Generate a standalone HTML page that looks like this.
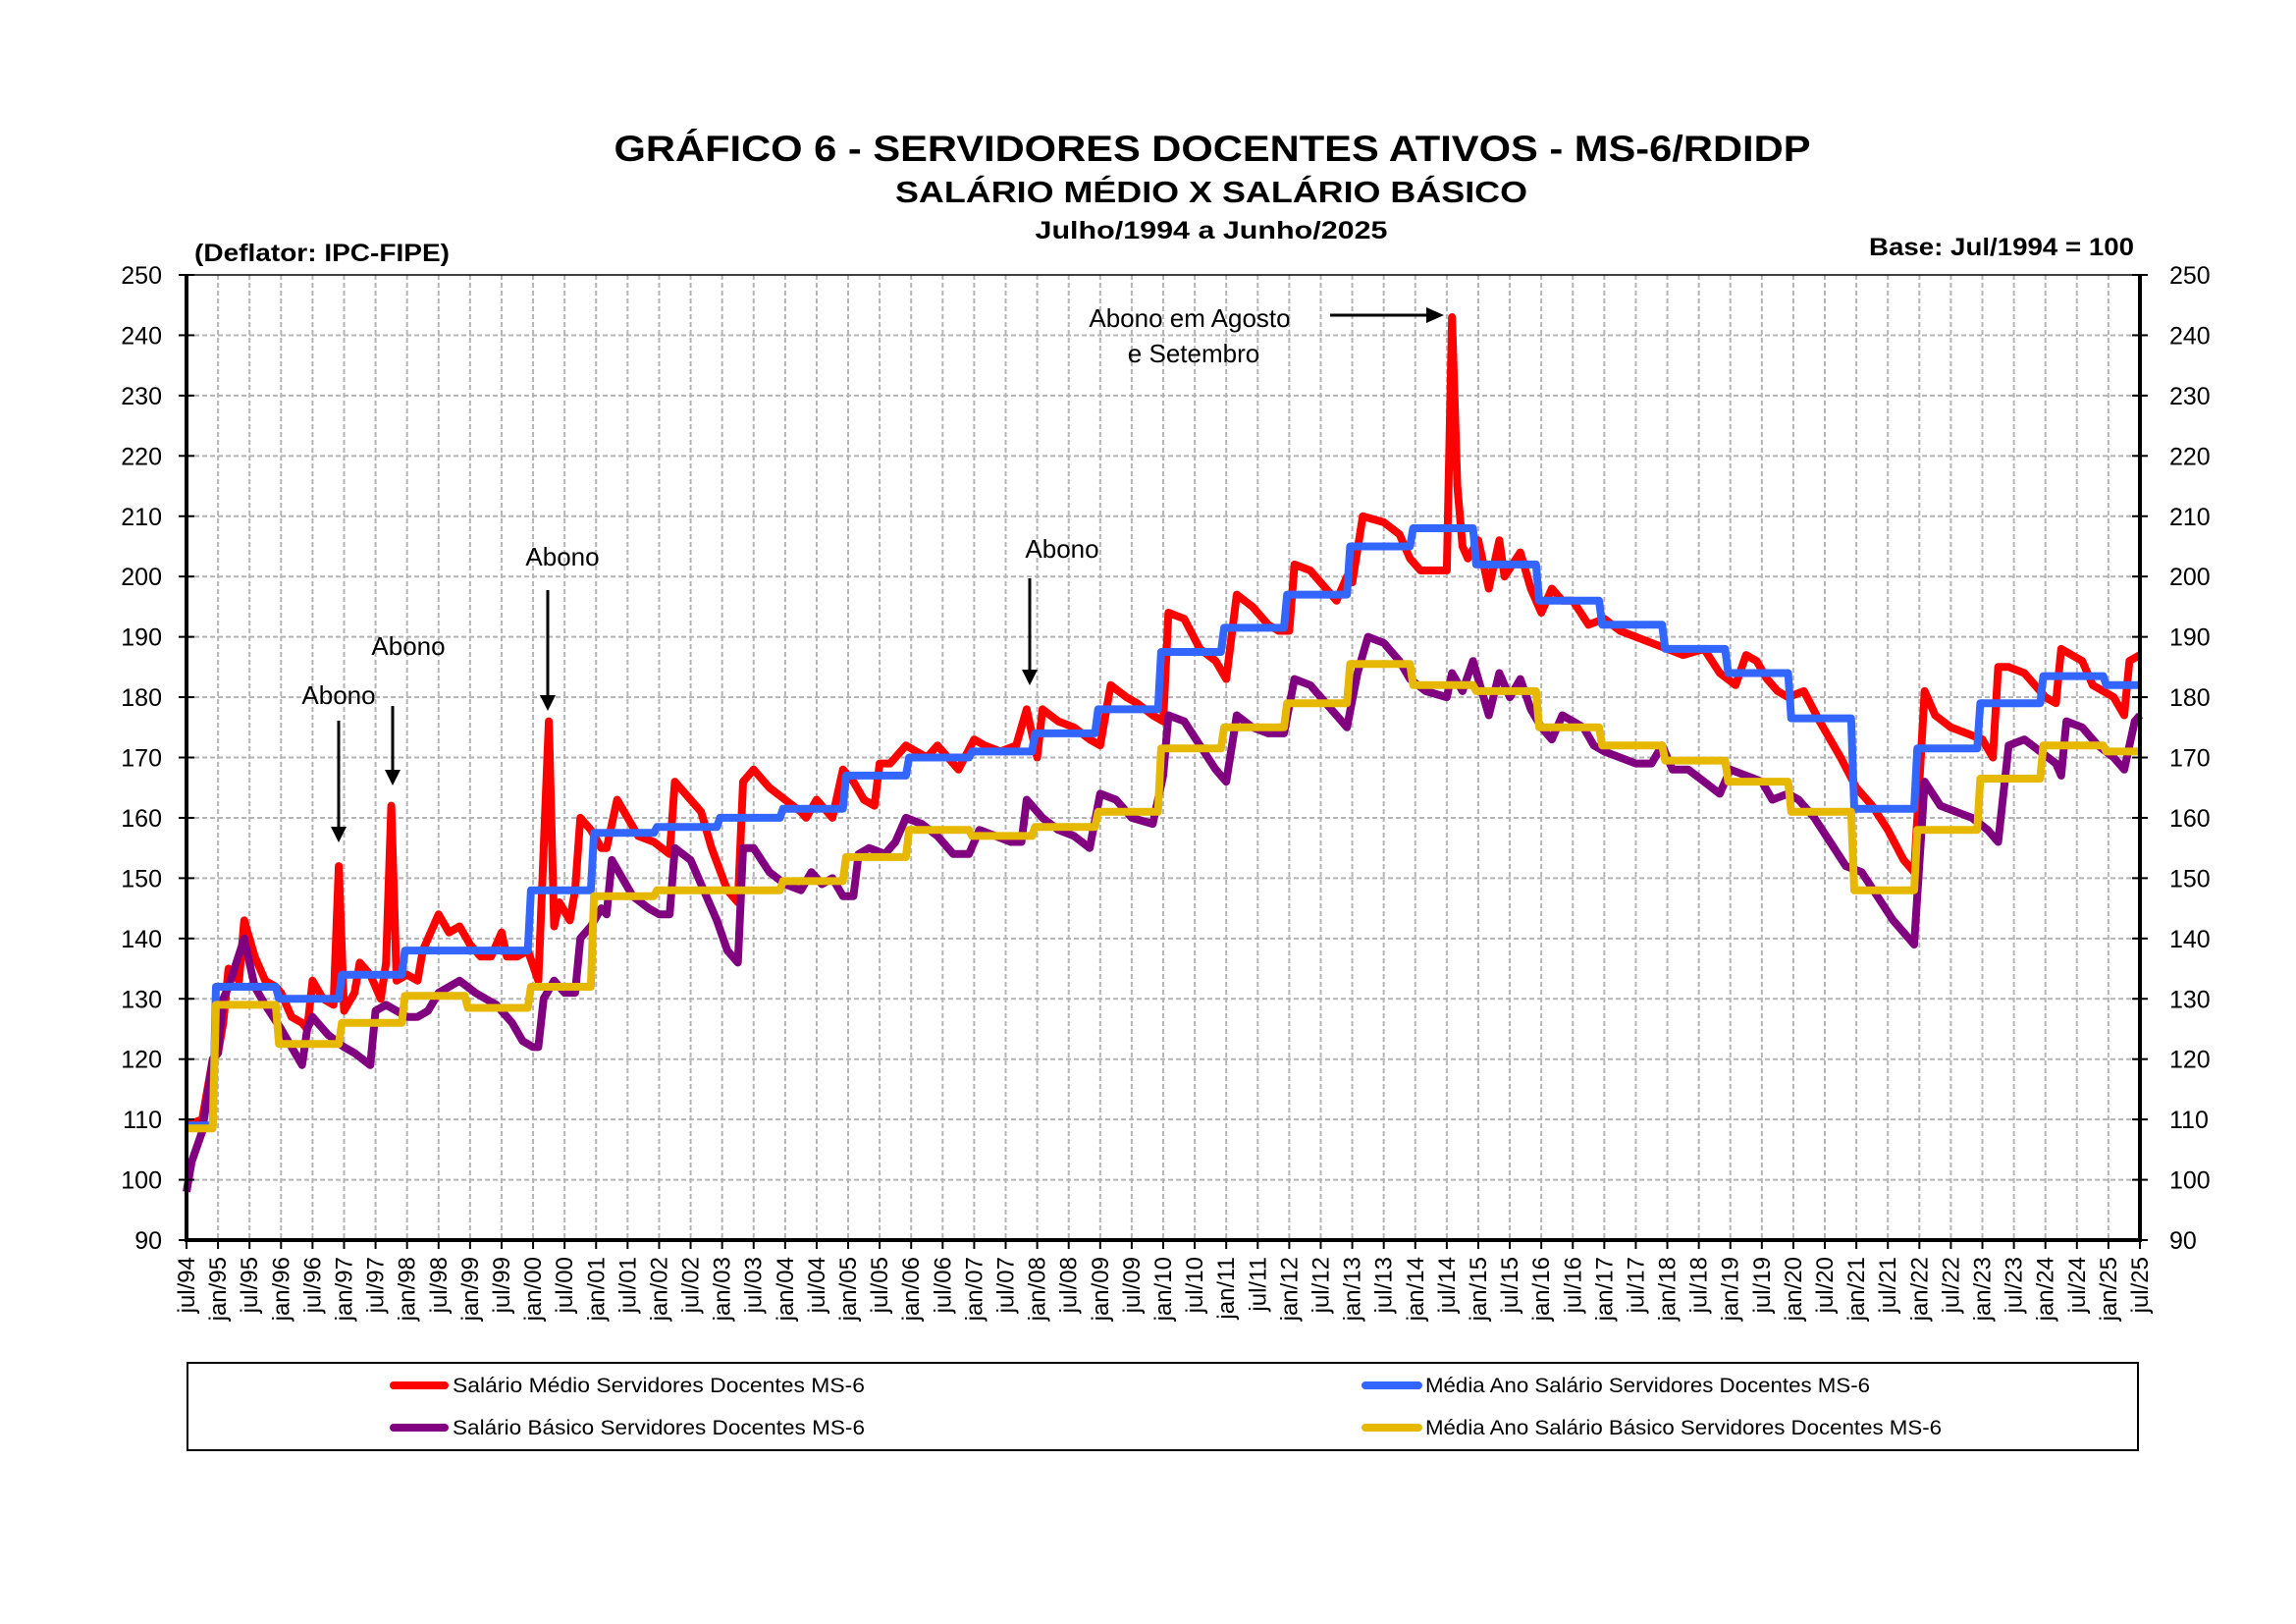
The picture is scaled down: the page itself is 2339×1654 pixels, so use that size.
<!DOCTYPE html>
<html><head><meta charset="utf-8"><style>
html,body{margin:0;padding:0;background:#fff;}
svg{display:block;font-family:"Liberation Sans",Arial,sans-serif;}
</style></head><body>
<svg id="chart" width="2339" height="1654" viewBox="0 0 2339 1654" xmlns="http://www.w3.org/2000/svg">
<rect width="2339" height="1654" fill="#fff"/>
<text x="1235" y="164" text-anchor="middle" font-size="37" font-weight="bold" textLength="1219" lengthAdjust="spacingAndGlyphs">GRÁFICO 6 - SERVIDORES DOCENTES ATIVOS - MS-6/RDIDP</text>
<text x="1234" y="206" text-anchor="middle" font-size="31" font-weight="bold" textLength="644" lengthAdjust="spacingAndGlyphs">SALÁRIO MÉDIO X SALÁRIO BÁSICO</text>
<text x="1234" y="243" text-anchor="middle" font-size="25" font-weight="bold" textLength="359" lengthAdjust="spacingAndGlyphs">Julho/1994 a Junho/2025</text>
<text x="198" y="266" font-size="25" font-weight="bold" textLength="260" lengthAdjust="spacingAndGlyphs">(Deflator: IPC-FIPE)</text>
<text x="2174" y="260" text-anchor="end" font-size="25" font-weight="bold" textLength="270" lengthAdjust="spacingAndGlyphs">Base: Jul/1994 = 100</text>
<g id="grid"></g>
<g id="series"></g>
<g id="axes"></g>
<g id="annotations"></g>
<g>
<rect x="191" y="1388" width="1987" height="89" fill="none" stroke="#000" stroke-width="2"/>
<g><line x1="401" y1="1411" x2="453" y2="1411" stroke="#ff0000" stroke-width="8" stroke-linecap="round"/><text x="461" y="1418" font-size="21" textLength="420" lengthAdjust="spacingAndGlyphs">Salário Médio  Servidores  Docentes MS-6</text></g>
<g><line x1="401" y1="1454" x2="453" y2="1454" stroke="#800080" stroke-width="8" stroke-linecap="round"/><text x="461" y="1461" font-size="21" textLength="420" lengthAdjust="spacingAndGlyphs">Salário Básico Servidores  Docentes MS-6</text></g>
<g><line x1="1391" y1="1411" x2="1445" y2="1411" stroke="#3366ff" stroke-width="8" stroke-linecap="round"/><text x="1452" y="1418" font-size="21" textLength="453" lengthAdjust="spacingAndGlyphs">Média Ano Salário Servidores Docentes MS-6</text></g>
<g><line x1="1391" y1="1454" x2="1445" y2="1454" stroke="#e6b800" stroke-width="8" stroke-linecap="round"/><text x="1452" y="1461" font-size="21" textLength="526" lengthAdjust="spacingAndGlyphs">Média Ano Salário Básico Servidores Docentes MS-6</text></g>
</g>
</svg>
<script>
// month index 0 = jul/94 ... 372 = jul/25
const xTickLabels = (function(){const a=[];for(let y=94;y<=125;y++){const yy=String(y%100).padStart(2,'0');a.push('jul/'+yy);if(y<125)a.push('jan/'+String((y+1)%100).padStart(2,'0'));}return a;})();
const yTicks = [90,100,110,120,130,140,150,160,170,180,190,200,210,220,230,240,250];

const redMonths = [0,3,5,6,7,8,10,11,13,15,17,18,20,22,23,24,26,28,29,30,32,33,35,37,38,39,40,42,44,45,48,50,52,54,56,58,60,61,63,65,67,69,70,71,73,74,75,77,79,80,82,84,86,89,92,93,96,98,100,103,105,106,108,111,114,117,118,120,123,125,127,129,131,132,134,137,139,141,143,145,147,150,152,155,158,160,162,163,166,169,172,174,176,179,181,184,186,187,190,193,196,198,200,203,206,208,210,211,214,217,219,221,222,224,228,231,233,235,239,240,241,242,243,244,246,248,250,251,254,256,258,260,262,264,267,270,273,276,279,282,285,289,292,295,297,299,301,303,305,308,311,315,318,321,324,327,329,331,333,336,339,342,344,345,347,350,352,354,356,357,359,361,363,365,367,369,370,372];
const redValues = [109,110,120,121,126,135,133,143,137,133,132,131,127,126,125,133,130,129,152,128,131,136,134,130,136,162,133,134,133,138,144,141,142,139,137,137,141,137,137,138,133,176,142,146,143,148,160,158,155,155,163,160,157,156,154,166,163,161,155,148,146,166,168,165,163,161,160,163,160,168,166,163,162,169,169,172,171,170,172,170,168,173,172,171,172,178,170,178,176,175,173,172,182,180,179,177,176,194,193,188,186,183,197,195,192,191,191,202,201,198,196,200,199,210,209,207,203,201,201,201,243,215,205,203,206,198,206,200,204,198,194,198,196,196,192,193,191,190,189,188,187,188,184,182,187,186,183,181,180,181,176,170,165,162,158,153,151,181,177,175,174,173,170,185,185,184,182,180,179,188,187,186,182,181,180,177,186,187];

const purpleMonths = [0,1,3,5,6,7,8,11,13,15,18,20,22,23,24,27,30,32,35,36,38,40,42,44,46,48,50,52,55,57,59,62,64,66,67,68,70,72,74,75,77,79,80,81,83,85,88,90,92,93,96,99,101,103,105,106,108,111,114,117,119,121,123,125,127,128,130,133,135,137,140,143,146,149,151,154,157,159,160,163,166,169,172,174,177,180,184,186,187,190,193,196,198,200,203,206,209,211,214,217,219,221,223,225,228,231,233,236,240,241,243,245,248,250,252,254,256,258,260,262,264,266,268,270,273,276,279,281,283,286,289,292,294,297,300,302,305,307,310,313,316,319,322,325,328,329,331,334,337,340,343,345,347,350,353,356,357,358,361,364,367,369,371,372];
const purpleValues = [98,103,108,120,121,130,132,140,132,129,125,122,119,125,127,124,122,121,119,128,129,128,127,127,128,131,132,133,131,130,129,126,123,122,122,130,133,131,131,140,142,145,144,153,150,147,145,144,144,155,153,147,143,138,136,155,155,151,149,148,151,149,150,147,147,154,155,154,156,160,159,157,154,154,158,157,156,156,163,160,158,157,155,164,163,160,159,167,177,176,172,168,166,177,175,174,174,183,182,179,177,175,184,190,189,186,183,181,180,184,181,186,177,184,180,183,178,175,173,177,176,175,172,171,170,169,169,172,168,168,166,164,168,167,166,163,164,163,160,156,152,151,147,143,140,139,166,162,161,160,158,156,172,173,171,169,167,176,175,172,170,168,176,177];

// yearly averages: first value covers jul/94-dec/94, then each value covers 12 months
const yearStartMonths = [0,5,17,29,41,53,65,77,89,101,113,125,137,149,161,173,185,197,209,221,233,245,257,269,281,293,305,317,329,341,353,365];
const blueYearValues = [109,132,130,134,138,138,148,157.5,158.5,160,161.5,167,170,171,174,178,187.5,191.5,197,205,208,202,196,192,188,184,176.5,161.5,171.5,179,183.5,182];
const yellowYearValues = [108.5,129,122.5,126,130.5,128.5,132,147,148,148,149.5,153.5,158,157,158.5,161,171.5,175,179,185.5,182,181,175,172,169.5,166,161,148,158,166.5,172,171];

const X0=190, X1=2180, Y0=1263, Y1=280, MMAX=372, VMIN=90, VMAX=250;
function xScale(m){return X0+(X1-X0)*m/MMAX;}
function yScale(v){return Y0-(Y0-Y1)*(v-VMIN)/(VMAX-VMIN);}
const NS='http://www.w3.org/2000/svg';
function mk(tag,attrs,parent){const e=document.createElementNS(NS,tag);for(const k in attrs)e.setAttribute(k,attrs[k]);parent.appendChild(e);return e;}

const grid=document.getElementById('grid');
for(let i=1;i<xTickLabels.length-1;i++){
  const x=xScale(i*6);
  const gl=mk('line',{x1:x,y1:Y1,x2:x,y2:Y0,stroke:'#b4b4b4','stroke-width':2,'stroke-dasharray':'5,3'},grid);
  
  
}
for(let i=1;i<yTicks.length-1;i++){
  const y=yScale(yTicks[i]);
  const gl=mk('line',{x1:X0,y1:y,x2:X1,y2:y,stroke:'#b4b4b4','stroke-width':2,'stroke-dasharray':'5,3'},grid);
  
  
}

const series=document.getElementById('series');
function pairPath(ms,vs){return ms.map((m,i)=>(i?'L':'M')+xScale(m).toFixed(1)+','+yScale(vs[i]).toFixed(1)).join(' ');}
function stepPath(vs){let d='';for(let i=0;i<vs.length;i++){const s=yearStartMonths[i]+(i?0.6:0);const e=i+1<yearStartMonths.length?yearStartMonths[i+1]:MMAX;d+=(i?'L':'M')+xScale(s).toFixed(1)+','+yScale(vs[i]).toFixed(1)+' L'+xScale(e).toFixed(1)+','+yScale(vs[i]).toFixed(1)+' ';}return d;}
const pRed=mk('path',{d:pairPath(redMonths,redValues),fill:'none',stroke:'#ff0000','stroke-width':8,'stroke-linejoin':'round'},series);


const pPurple=mk('path',{d:pairPath(purpleMonths,purpleValues),fill:'none',stroke:'#800080','stroke-width':8,'stroke-linejoin':'round'},series);


const pBlue=mk('path',{d:stepPath(blueYearValues),fill:'none',stroke:'#3366ff','stroke-width':8,'stroke-linejoin':'round'},series);


const pYellow=mk('path',{d:stepPath(yellowYearValues),fill:'none',stroke:'#e6b800','stroke-width':8,'stroke-linejoin':'round'},series);



const axes=document.getElementById('axes');
mk('rect',{x:X0,y:Y1,width:X1-X0,height:Y0-Y1,fill:'none',stroke:'#000','stroke-width':1.5},axes);
const la=mk('line',{x1:X0,y1:Y1,x2:X0,y2:Y0,stroke:'#000','stroke-width':4},axes);


const ra=mk('line',{x1:X1,y1:Y1,x2:X1,y2:Y0,stroke:'#000','stroke-width':4},axes);


const ba=mk('line',{x1:X0-2,y1:Y0,x2:X1+2,y2:Y0,stroke:'#000','stroke-width':4},axes);


yTicks.forEach(v=>{
  const y=yScale(v);
  mk('line',{x1:X0-8,y1:y,x2:X0+8,y2:y,stroke:'#000','stroke-width':2},axes);
  mk('line',{x1:X1-8,y1:y,x2:X1+8,y2:y,stroke:'#000','stroke-width':2},axes);
  const t1=mk('text',{x:X0-25,y:y+9,'text-anchor':'end','font-size':25},axes);
  t1.textContent=v;
  
  
  const t2=mk('text',{x:X1+30,y:y+9,'text-anchor':'start','font-size':25},axes);
  t2.textContent=v;
  
  
});
xTickLabels.forEach((lab,i)=>{
  const x=xScale(i*6);
  mk('line',{x1:x,y1:Y0,x2:x,y2:Y0+9,stroke:'#000','stroke-width':2},axes);
  const t=mk('text',{x:0,y:0,'text-anchor':'end','font-size':24,transform:'translate('+(x+8)+','+(Y0+17)+') rotate(-90)'},axes);
  t.textContent=lab;
  
  
});

const ann=document.getElementById('annotations');
const notes=[["Abono",345,717,345,734,858],["Abono",416,667,400,719,800],["Abono",573,576,558,601,724],["Abono",1082,568,1049,589,698]];
notes.forEach(n=>{
  const t=mk('text',{x:n[1],y:n[2],'text-anchor':'middle','font-size':26},ann);
  t.textContent=n[0];
  
  
  const l=mk('line',{x1:n[3],y1:n[4],x2:n[3],y2:n[5]-14,stroke:'#000','stroke-width':3},ann);
  
  
  mk('polygon',{points:(n[3]-8)+','+(n[5]-16)+' '+(n[3]+8)+','+(n[5]-16)+' '+n[3]+','+n[5]},ann);
});
const ag=mk('text',{x:1212,y:333,'text-anchor':'middle','font-size':26},ann);
ag.textContent='Abono em Agosto';


const ag2=mk('text',{x:1216,y:369,'text-anchor':'middle','font-size':26},ann);
ag2.textContent='e Setembro';


const ha=mk('line',{x1:1355,y1:321,x2:1455,y2:321,stroke:'#000','stroke-width':3},ann);


mk('polygon',{points:'1453,313 1453,329 1471,321'},ann);
</script>
</body></html>
